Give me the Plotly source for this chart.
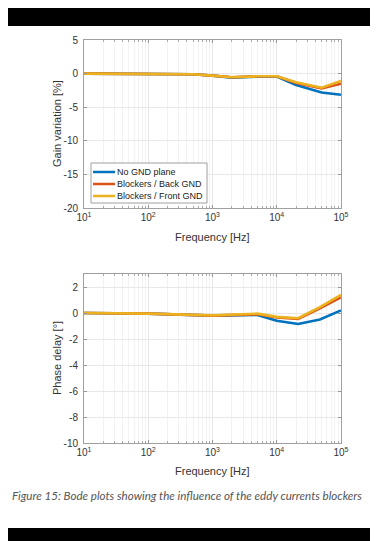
import plotly.graph_objects as go

# Data
freq_gain = [10, 100, 250, 500, 1000, 2000, 5000, 10000, 20000, 50000, 100000]
gain_no_gnd = [0.0, 0.0, 0.0, -0.1, -0.3, -0.6, -0.45, -0.45, -1.7, -2.8, -3.15]
gain_back = [0.0, 0.0, 0.0, -0.1, -0.3, -0.55, -0.4, -0.4, -1.4, -2.2, -1.5]
gain_front = [0.0, 0.0, 0.0, -0.1, -0.3, -0.55, -0.4, -0.4, -1.3, -2.1, -1.1]

freq_phase = [10, 100, 1000, 5000, 10000, 21500, 47000, 100000]
phase_no_gnd = [0.0, -0.05, -0.2, -0.15, -0.6, -0.85, -0.5, 0.2]
phase_back = [0.0, -0.05, -0.2, -0.1, -0.35, -0.45, 0.35, 1.2]
phase_front = [0.0, -0.05, -0.18, -0.05, -0.3, -0.4, 0.45, 1.4]

series_names = ["No GND plane", "Blockers / Back GND", "Blockers / Front GND"]
colors = ["#0072BD", "#D95319", "#EDB120"]

x_tickvals = [10, 100, 1000, 10000, 100000]
x_ticktext = ["10<sup>1</sup>", "10<sup>2</sup>", "10<sup>3</sup>", "10<sup>4</sup>", "10<sup>5</sup>"]
gain_ticks = [-20, -15, -10, -5, 0, 5]
phase_ticks = [-10, -8, -6, -4, -2, 0, 2]
caption = "Figure 15: Bode plots showing the influence of the eddy currents blockers"

W, H = 378, 541
fig = go.Figure()
for name, ys, c in zip(series_names, [gain_no_gnd, gain_back, gain_front], colors):
    fig.add_trace(go.Scatter(x=freq_gain, y=ys, mode="lines", name=name, showlegend=False,
                             line=dict(color=c, width=2.6), xaxis="x", yaxis="y"))
for name, ys, c in zip(series_names, [phase_no_gnd, phase_back, phase_front], colors):
    fig.add_trace(go.Scatter(x=freq_phase, y=ys, mode="lines", name=name, showlegend=False,
                             line=dict(color=c, width=2.6), xaxis="x2", yaxis="y2"))

def py(px):
    return 1 - px / H

def pxx(px):
    return px / W

xd = [76 / W, 333 / W]
tick_font = dict(family="Liberation Sans, Arial", size=10, color="#333333")
common_x = dict(type="log", range=[1, 5], tickvals=x_tickvals, ticktext=x_ticktext,
                showgrid=True, gridcolor="#e8e8e8", ticks="inside", ticklen=3, tickcolor="#999999",
                minor=dict(dtick="D1", showgrid=True, gridcolor="#f2f2f2", ticks="inside", ticklen=2,
                           tickcolor="#aaaaaa"),
                showline=True, linecolor="#a0a0a0", linewidth=1, mirror="ticks",
                zeroline=False, tickfont=tick_font, automargin=False, domain=xd)
common_y = dict(showgrid=True, gridcolor="#e8e8e8", ticks="inside", ticklen=3, tickcolor="#999999",
                showline=True, linecolor="#a0a0a0", linewidth=1, mirror="ticks",
                zeroline=False, tickfont=tick_font, automargin=False, ticklabelstandoff=3)

fig.update_layout(
    width=W, height=H, margin=dict(l=0, r=0, t=0, b=0),
    paper_bgcolor="white", plot_bgcolor="white",
    xaxis=dict(common_x, anchor="y"),
    yaxis=dict(common_y, domain=[py(200), py(32)], range=[-20, 5], tickvals=gain_ticks,
               ticktext=[str(v) for v in gain_ticks], anchor="x"),
    xaxis2=dict(common_x, anchor="y2"),
    yaxis2=dict(common_y, domain=[py(435), py(266)], range=[-10, 3], tickvals=phase_ticks,
                ticktext=[str(v) for v in phase_ticks], anchor="x2"),
    font=dict(family="Liberation Sans, Arial"),
    showlegend=False,
)

title_font = dict(family="Liberation Sans, Arial", size=11, color="#333333")
# axis titles
for txt, x, y, ang in [("Frequency [Hz]", 204, 229, 0), ("Frequency [Hz]", 204, 463, 0),
                       ("Gain variation [%]", 49, 116, -90), ("Phase delay [°]", 49, 350, -90)]:
    fig.add_annotation(text=txt, xref="paper", yref="paper", x=pxx(x), y=py(y), xanchor="center",
                       yanchor="middle", showarrow=False, textangle=ang, font=title_font)

# legend box (manual)
fig.add_shape(type="rect", xref="paper", yref="paper", x0=pxx(83), x1=pxx(199), y0=py(195), y1=py(155),
              fillcolor="white", line=dict(color="#a0a0a0", width=1))
for i, (name, c) in enumerate(zip(series_names, colors)):
    yy = 164 + 12 * i
    fig.add_shape(type="line", xref="paper", yref="paper", x0=pxx(85), x1=pxx(107), y0=py(yy), y1=py(yy),
                  line=dict(color=c, width=2.5))
    fig.add_annotation(text=name, xref="paper", yref="paper", x=pxx(107), y=py(yy), xanchor="left",
                       yanchor="middle", showarrow=False,
                       font=dict(family="Liberation Sans, Arial", size=9, color="#222222"))

fig.add_shape(type="rect", xref="paper", yref="paper", x0=0, x1=1, y0=py(18), y1=1,
              fillcolor="black", line=dict(width=0), layer="above")
fig.add_shape(type="rect", xref="paper", yref="paper", x0=0, x1=1, y0=0, y1=py(520),
              fillcolor="black", line=dict(width=0), layer="above")
fig.add_annotation(text="<i>" + caption + "</i>", xref="paper", yref="paper", x=2 / W, y=py(487),
                   xanchor="left", yanchor="middle", showarrow=False,
                   font=dict(family="Lato, Open Sans", size=11.6, color="#555555"))

fig.write_html("out.html")
